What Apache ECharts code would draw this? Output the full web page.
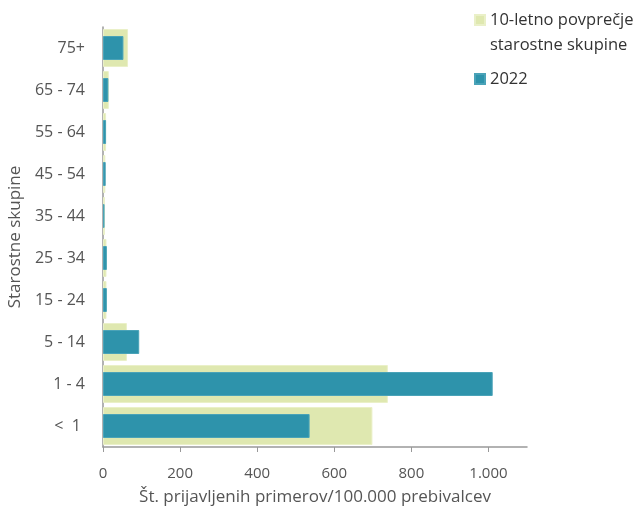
<!DOCTYPE html>
<html>
<head>
<meta charset="utf-8">
<script src="https://cdn.jsdelivr.net/npm/echarts@6/dist/echarts.min.js"></script>
<style>
  html, body { margin: 0; padding: 0; background: #fff; }
  #myChart { width: 633px; height: 507px; }
</style>
</head>
<body>
<div id="myChart"></div>
<script>
// starostne skupine, od spodaj navzgor
const ageGroups = ['<  1 ', '1 - 4', '5 - 14', '15 - 24', '25 - 34', '35 - 44', '45 - 54', '55 - 64', '65 - 74', '75+']
// 10-letno povprečje
const avgValues = [699, 739, 62, 9, 9, 5, 6, 8, 15, 65]
// 2022
const values2022 = [536, 1011, 94, 10, 10, 4, 7, 8, 14, 53]
const xTicks = [0, 200, 400, 600, 800, 1000]

const avgName = '10-letno povprečje starostne skupine'
const curName = '2022'
const textColor = '#555'
const axisColor = '#999'
const font = 'Open Sans'

let option = {
  animation: false,
  textStyle: { fontFamily: font },
  grid: { left: 103, right: 106, top: 27, bottom: 60, outerBoundsMode: 'none', containLabel: false },
  legend: [
    {
      left: 469, top: -22.5,
      orient: 'vertical',
      itemWidth: 10, itemHeight: 10,
      icon: 'rect',
      data: [avgName],
      // prazna prva vrstica, da je ikona poravnana s prvo vrstico besedila
      formatter: () => ' \n10-letno povprečje\nstarostne skupine',
      textStyle: { fontFamily: font, fontSize: 16.5, color: '#333', lineHeight: 25 }
    },
    {
      left: 469, top: 61.5,
      itemWidth: 10, itemHeight: 10,
      icon: 'rect',
      data: [curName],
      textStyle: { fontFamily: font, fontSize: 16.5, color: '#333', lineHeight: 25 }
    }
  ],
  xAxis: {
    type: 'value',
    min: 0,
    max: 1100,
    interval: 200,
    name: 'Št. prijavljenih primerov/100.000 prebivalcev',
    nameLocation: 'middle',
    nameGap: 42,
    nameTextStyle: { fontFamily: font, fontSize: 17, color: textColor },
    splitLine: { show: false },
    axisLine: { show: true, lineStyle: { color: axisColor, width: 1.5 } },
    axisTick: { show: true, length: 5, lineStyle: { color: axisColor }, customValues: xTicks },
    axisLabel: {
      color: textColor, fontSize: 15, margin: 19,
      customValues: xTicks,
      formatter: v => String(v).replace(/\B(?=(\d{3})+(?!\d))/g, '.')
    }
  },
  yAxis: [
    {
      type: 'category',
      data: ageGroups,
      name: 'Starostne skupine',
      nameLocation: 'middle',
      nameGap: 74,
      nameTextStyle: { fontFamily: font, fontSize: 17, color: textColor },
      axisLine: { lineStyle: { color: axisColor, width: 1.5 } },
      axisTick: { length: 5, lineStyle: { color: axisColor } },
      axisLabel: { color: textColor, fontSize: 16, margin: 18 }
    },
    {
      type: 'category',
      data: ageGroups,
      show: false
    }
  ],
  series: [
    {
      name: avgName,
      type: 'bar',
      yAxisIndex: 0,
      barWidth: 38,
      itemStyle: { color: '#dfe8b0', borderColor: '#eaf0c8', borderWidth: 1 },
      data: avgValues
    },
    {
      name: curName,
      type: 'bar',
      yAxisIndex: 1,
      barWidth: 24,
      itemStyle: { color: '#2e93ab', borderColor: '#4aa3b8', borderWidth: 1 },
      data: values2022
    }
  ]
}

const myChart = echarts.init(document.getElementById('myChart'))
myChart.setOption(option)
</script>
</body>
</html>
